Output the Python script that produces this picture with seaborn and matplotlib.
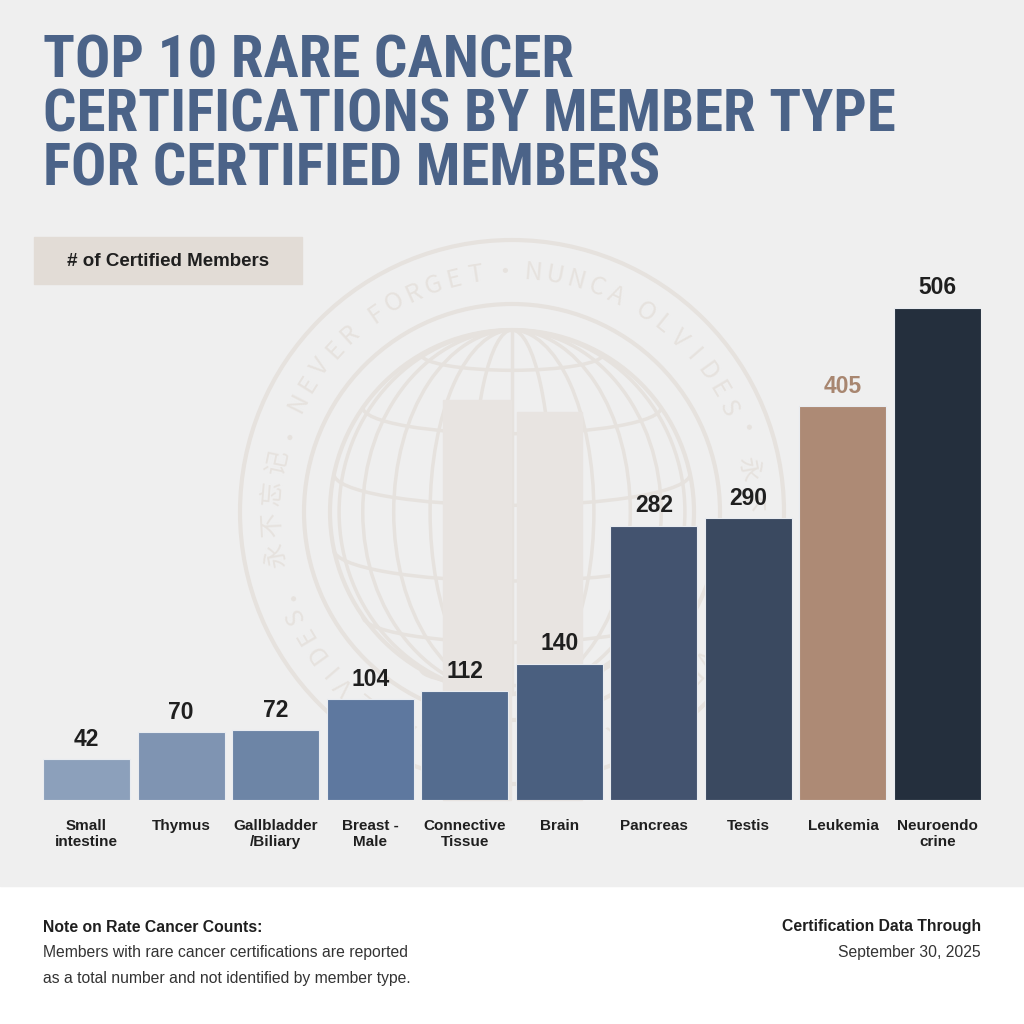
import numpy as np
import pandas as pd
import matplotlib
matplotlib.use("Agg")
import matplotlib.pyplot as plt
from matplotlib import font_manager
from matplotlib.patches import Rectangle, Circle, Ellipse, Arc
import seaborn as sns

# ── Data ──────────────────────────────────────────────────────────────────────
categories = ["Small\nintestine", "Thymus", "Gallbladder\n/Biliary", "Breast -\nMale",
              "Connective\nTissue", "Brain", "Pancreas", "Testis", "Leukemia",
              "Neuroendo\ncrine"]
members = [42, 70, 72, 104, 112, 140, 282, 290, 405, 506]
bar_colors = ["#8ca0bb", "#7f94b2", "#6d85a6", "#5e789f", "#546c8f",
              "#4a5f7f", "#43536f", "#3a4960", "#ad8a75", "#242f3d"]
label_colors = ["#1f1f1f"] * 8 + ["#a88670", "#1f1f1f"]

title_lines = ["TOP 10 RARE CANCER", "CERTIFICATIONS BY MEMBER TYPE", "FOR CERTIFIED MEMBERS"]
y_label = "# of Certified Members"
note_title = "Note on Rate Cancer Counts:"
note_lines = ["Members with rare cancer certifications are reported",
              "as a total number and not identified by member type."]
data_title = "Certification Data Through"
data_date = "September 30, 2025"
ring_text = "NEVER FORGET · NUNCA OLVIDES · 永不忘记 · "

# ── Fonts ─────────────────────────────────────────────────────────────────────
sns.set_theme(style="white")
installed = {f.name for f in font_manager.fontManager.ttflist}
narrow = next((f for f in ["Liberation Sans Narrow", "Roboto Condensed",
                           "DejaVu Sans Condensed"] if f in installed), "Liberation Sans")
body = "Liberation Sans" if "Liberation Sans" in installed else "DejaVu Sans"
plt.rcParams["font.family"] = [body, "DejaVu Sans"]

W = H = 1024
TITLE_C = "#4b6388"
WM_C = "#e6e2de"
DARK = "#1f1f1f"

fig = plt.figure(figsize=(10.24, 10.24), dpi=100)
fig.patch.set_facecolor("white")

# background / watermark layer in pixel coordinates
wm = fig.add_axes([0, 0, 1, 1], zorder=0)
wm.set_xlim(0, W)
wm.set_ylim(H, 0)
wm.axis("off")
wm.add_patch(Rectangle((0, 0), W, 886, color="#efefef", zorder=0))

cx, cy = 512, 512
for r in (272, 208):
    wm.add_patch(Circle((cx, cy), r, fill=False, ec=WM_C, lw=3, zorder=1))
gr = 182
wm.add_patch(Circle((cx, cy), gr, fill=False, ec=WM_C, lw=3, zorder=1))
for k in (0.22, 0.45, 0.65, 0.82, 0.95):
    wm.add_patch(Ellipse((cx, cy), 2 * gr * k, 2 * gr, fill=False, ec=WM_C, lw=2.5, zorder=1))
wm.plot([cx, cx], [cy - gr, cy + gr], color=WM_C, lw=2.5, zorder=1)
for lat in (-60, -35, -12, 12, 35, 60):
    yy = cy - gr * np.sin(np.radians(lat))
    hw = gr * np.cos(np.radians(lat))
    wm.add_patch(Arc((cx, yy), 2 * hw, 0.35 * hw, theta1=0, theta2=180,
                     ec=WM_C, lw=2.5, zorder=1))
wm.add_patch(Rectangle((443, 400), 68, 400, color="#e8e4e1", zorder=2))
wm.add_patch(Rectangle((517, 412), 65, 388, color="#e8e4e1", zorder=2))

# circular ring text, two repetitions around the circle
weights = [1.45 if ord(c) > 0x2E80 else 0.55 if c == " " else 0.6 if c == "·" else 1.0
           for c in ring_text]
scale = 180.0 / sum(weights)
ang = 153 + 0.5 * scale
for rep in range(2):
    for c, w in zip(ring_text, weights):
        a = ang - 0.5 * w * scale
        if c != " ":
            wm.text(cx + 240 * np.cos(np.radians(a)), cy - 240 * np.sin(np.radians(a)), c,
                    rotation=a - 90, ha="center", va="center", fontsize=18,
                    color=WM_C, family=["Noto Sans CJK SC", "DejaVu Sans"], zorder=1)
        ang -= w * scale

# ── Bars ──────────────────────────────────────────────────────────────────────
ax = fig.add_axes([43 / W, (H - 800) / H, 938 / W, 570 / H], zorder=2)
sns.barplot(x=categories, y=members, hue=categories, palette=bar_colors,
            legend=False, width=0.92, saturation=1, linewidth=0.8,
            edgecolor="#e9ecf0", ax=ax)
ax.set_xlim(-0.46, 9.46)
ax.set_ylim(0, 586)
ax.set_facecolor("none")
for s in ax.spines.values():
    s.set_visible(False)
ax.set_yticks([])
ax.set_xlabel("")
ax.set_ylabel("")
ax.tick_params(axis="x", length=0, pad=14)
for t in ax.get_xticklabels():
    t.set_fontsize(11)
    t.set_fontweight("bold")
    t.set_color(DARK)
    t.set_linespacing(1.15)
for cont, col in zip(ax.containers, label_colors):
    ax.bar_label(cont, fmt="%d", padding=6, fontsize=16.5, fontweight="bold", color=col)

# ── Texts ─────────────────────────────────────────────────────────────────────
renderer = fig.canvas.get_renderer()
probe = wm.text(0, 0, title_lines[1], fontsize=40, fontweight="bold", family=narrow)
tsize = 40 * 851 / probe.get_window_extent(renderer).width
probe.remove()
for line, yb in zip(title_lines, [78, 132, 186]):
    wm.text(43, yb, line, fontsize=tsize, fontweight="bold", family=narrow,
            color=TITLE_C, va="baseline", ha="left", zorder=3)

wm.add_patch(Rectangle((34, 237), 268, 47, color="#e2dcd6", zorder=3))
wm.text(168, 261, y_label, fontsize=13.5, fontweight="bold",
        color=DARK, ha="center", va="center", zorder=4)

wm.text(43, 927, note_title, fontsize=11.3, fontweight="bold", color=DARK, va="center")
for line, yy in zip(note_lines, [953, 979]):
    wm.text(43, yy, line, fontsize=11.3, color="#333333", va="center")
wm.text(981, 927, data_title, fontsize=11.3, fontweight="bold", color=DARK,
        va="center", ha="right")
wm.text(981, 953, data_date, fontsize=11.3, color="#333333", va="center", ha="right")

fig.savefig("out.png", dpi=100, facecolor=fig.get_facecolor())
